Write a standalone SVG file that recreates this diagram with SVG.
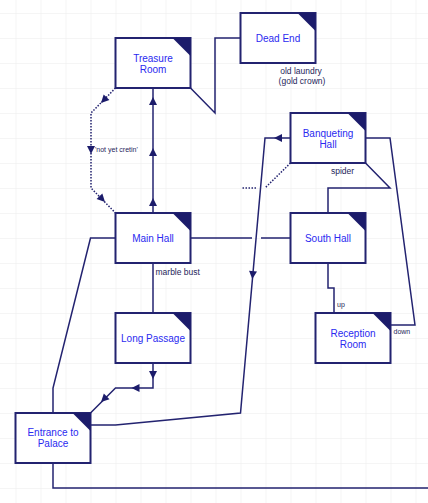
<svg xmlns="http://www.w3.org/2000/svg" xmlns:xlink="http://www.w3.org/1999/xlink" width="428" height="503" viewBox="0 0 428 503">
<style>
.box{fill:#fff;stroke:#232370;stroke-width:2}
.tri{fill:#1c1c6b}
.nt{font-family:"Liberation Sans",Arial,sans-serif;font-size:10px;fill:#2a2af0;text-anchor:middle}
.ln{fill:none;stroke:#232370;stroke-width:1.5}
.dot{fill:none;stroke:#232370;stroke-width:1.5;stroke-dasharray:1.5,1.5}
.lb{font-family:"Liberation Sans",Arial,sans-serif;font-size:8.5px;fill:#1e1e5a}
.ah{fill:#1c1c6b}
</style>
<defs>
<pattern id="grid" x="15.5" y="13" width="25" height="25" patternUnits="userSpaceOnUse">
<path d="M0,0 H25 M0,0 V25" fill="none" stroke="#ebebeb" stroke-width="1"/>
</pattern>
<path id="ah" class="ah" d="M0,0 L-8,-4 L-8,4 Z"/>
</defs>
<rect width="428" height="503" fill="#fff"/>
<rect width="428" height="503" fill="url(#grid)"/>
<g id="connectors">
<path class="ln" d="M153,213 V88"/>
<use xlink:href="#ah" transform="translate(153,97) rotate(-90)"/>
<use xlink:href="#ah" transform="translate(153,148) rotate(-90)"/>
<use xlink:href="#ah" transform="translate(153,198) rotate(-90)"/>
<path class="dot" d="M115.5,88 L91,113 V188 L115.5,213"/>
<use xlink:href="#ah" transform="translate(101,103) rotate(134)"/>
<use xlink:href="#ah" transform="translate(91,154) rotate(90)"/>
<use xlink:href="#ah" transform="translate(105,202) rotate(46)"/>
<text class="lb" style="font-size:7px" x="95" y="151.5">'not yet cretin'</text>
<path class="ln" d="M190.5,88 L215,113 V38 H240.5"/>
<text class="lb" x="301" y="73.5" text-anchor="middle">old laundry</text>
<text class="lb" x="302" y="84" text-anchor="middle">(gold crown)</text>
<path class="ln" d="M190.5,238 H252 M261,238 H290.5"/>
<path class="ln" d="M290.5,138 H265 L240.5,413 L115.5,425 H90.5"/>
<use xlink:href="#ah" transform="translate(274,138) rotate(180)"/>
<use xlink:href="#ah" transform="translate(252.3,279) rotate(95.2)"/>
<path class="dot" d="M290.5,163 L265,188 M256,188 H241"/>
<path class="ln" d="M365.5,163 L390,188 H328 V213"/>
<text class="lb" x="342.5" y="174" text-anchor="middle">spider</text>
<path class="ln" d="M365.5,138 H390 L415,325 H390.5"/>
<text class="lb" style="font-size:7px" x="393.5" y="334">down</text>
<path class="ln" d="M328,263 V288 H334 V313"/>
<text class="lb" style="font-size:7px" x="337" y="307">up</text>
<path class="ln" d="M153,263 V313"/>
<text class="lb" x="155.5" y="274.5">marble bust</text>
<path class="ln" d="M153,363 V388 H115.5 L90.5,413"/>
<use xlink:href="#ah" transform="translate(153,379) rotate(90)"/>
<use xlink:href="#ah" transform="translate(131.5,388) rotate(180)"/>
<use xlink:href="#ah" transform="translate(101,402) rotate(135)"/>
<path class="ln" d="M115.5,238 H90.5 L53,388 V413"/>
<path class="ln" d="M53,463 V488 H428"/>
</g>
<g id="treasure-room">
<rect class="box" x="115.5" y="38" width="75" height="50"/>
<path class="tri" d="M172.5,38 H190.5 V56 Z"/>
<text class="nt" x="153" y="61.5">Treasure</text>
<text class="nt" x="153" y="73">Room</text>
</g>
<g id="dead-end">
<rect class="box" x="240.5" y="13" width="75" height="50"/>
<path class="tri" d="M297.5,13 H315.5 V31 Z"/>
<text class="nt" x="278" y="42">Dead End</text>
</g>
<g id="banqueting-hall">
<rect class="box" x="290.5" y="113" width="75" height="50"/>
<path class="tri" d="M347.5,113 H365.5 V131 Z"/>
<text class="nt" x="328" y="136.5">Banqueting</text>
<text class="nt" x="328" y="147.5">Hall</text>
</g>
<g id="main-hall">
<rect class="box" x="115.5" y="213" width="75" height="50"/>
<path class="tri" d="M172.5,213 H190.5 V231 Z"/>
<text class="nt" x="153" y="241.5">Main Hall</text>
</g>
<g id="south-hall">
<rect class="box" x="290.5" y="213" width="75" height="50"/>
<path class="tri" d="M347.5,213 H365.5 V231 Z"/>
<text class="nt" x="328" y="241.5">South Hall</text>
</g>
<g id="long-passage">
<rect class="box" x="115.5" y="313" width="75" height="50"/>
<path class="tri" d="M172.5,313 H190.5 V331 Z"/>
<text class="nt" x="153" y="341.5">Long Passage</text>
</g>
<g id="reception-room">
<rect class="box" x="315.5" y="313" width="75" height="50"/>
<path class="tri" d="M372.5,313 H390.5 V331 Z"/>
<text class="nt" x="353" y="336.5">Reception</text>
<text class="nt" x="353" y="347.5">Room</text>
</g>
<g id="entrance-to-palace">
<rect class="box" x="15.5" y="413" width="75" height="50"/>
<path class="tri" d="M72.5,413 H90.5 V431 Z"/>
<text class="nt" x="53" y="436">Entrance to</text>
<text class="nt" x="53" y="447">Palace</text>
</g>
</svg>
